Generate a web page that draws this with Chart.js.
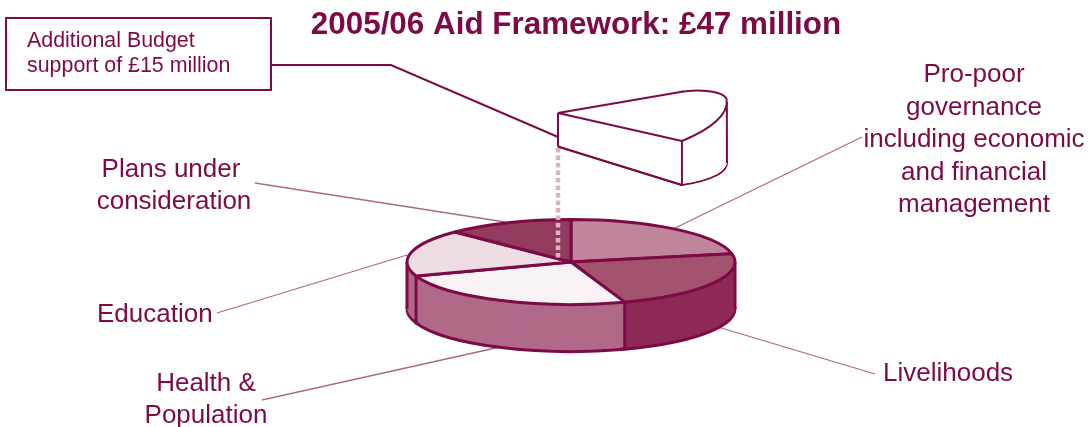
<!DOCTYPE html>
<html>
<head>
<meta charset="utf-8">
<script src="https://cdn.jsdelivr.net/npm/chart.js@4"></script>
<style>
  html, body { margin: 0; background: #fff; overflow: hidden; }
  #stage { position: relative; width: 1091px; height: 427px; }
  #stage canvas { position: absolute; left: 0; top: 0; }
</style>
</head>
<body>
<div id="stage">
  <canvas id="pie" width="1091" height="427"></canvas>
  <canvas id="wedge" width="1091" height="427"></canvas>
</div>
<script>
// Aid framework: allocation in £ million
const categories = ['Pro-poor governance including economic and financial management', 'Livelihoods', 'Health & Population', 'Education', 'Plans under consideration'];
const values = [7, 7.3, 8, 5.7, 4];
const additionalLabel = ['Additional Budget support'];
const additionalValues = [15];

const INK = '#7d0a47';
const LEADER = '#b0668a';
const topColors = ['#c0849c', '#a35270', '#f8f2f5', '#eedce4', '#933a5f'];
const sideColors = ['#8f2a56', '#8f2a56', '#b06a88', '#b06a88', '#933a5f'];

// Projection of the pie disc: centre, horizontal and vertical radius, extrusion depth
const disc = { x: 571, y: 262, rx: 164, ry: 42.5, depth: 47 };

// Projection of the lifted wedge: top and bottom faces as affine frames
const wedgeTop = { x: 558, y: 113, mx: 165.1, my: 0.35, nx: -35.3, ny: 54.3 };
const wedgeBottom = { x: 558, y: 146.5, mx: 165.2, my: 24.2, nx: -35.5, ny: 34.6 };
const wedgeSweep = 61.4;

// Stroke in screen space, so line width is not squashed with the ellipse
function patchStroke(chart) {
  const ctx = chart.ctx, native = ctx.stroke, dpr = chart.currentDevicePixelRatio;
  ctx.stroke = function () {
    ctx.save();
    ctx.setTransform(dpr, 0, 0, dpr, 0, 0);
    native.call(ctx);
    ctx.restore();
  };
}
function unpatchStroke(chart) { delete chart.ctx.stroke; }

function applyFrame(ctx, el, f) {
  const R = el.outerRadius;
  ctx.translate(f.x, f.y);
  ctx.transform(f.mx / R, f.my / R, f.nx / R, f.ny / R, 0, 0);
  ctx.translate(-el.x, -el.y);
}
function discFrame(dy) {
  return { x: disc.x, y: disc.y + dy, mx: disc.rx, my: 0, nx: 0, ny: disc.ry };
}
function mix(a, b, t) {
  const o = {};
  for (const k in a) o[k] = a[k] + (b[k] - a[k]) * t;
  return o;
}
function project(f, angle) {
  return { x: f.x + f.mx * Math.cos(angle) + f.nx * Math.sin(angle),
           y: f.y + f.my * Math.cos(angle) + f.ny * Math.sin(angle) };
}
function drawCopy(ctx, el, frame, fill, border, width) {
  const saved = el.options;
  el.options = Object.assign({}, saved, { backgroundColor: fill, borderColor: border, borderWidth: width });
  ctx.save();
  applyFrame(ctx, el, frame);
  el.draw(ctx);
  ctx.restore();
  el.options = saved;
}
function segment(ctx, a, b, color, width, dash) {
  ctx.save();
  ctx.strokeStyle = color;
  ctx.lineWidth = width;
  ctx.setLineDash(dash || []);
  ctx.beginPath();
  ctx.moveTo(a.x, a.y);
  ctx.lineTo(b.x, b.y);
  ctx.stroke();
  ctx.restore();
}

// Extruded elliptical pie, drawn from the base upward
const discPlugin = {
  id: 'discPlugin',
  beforeDatasetDraw(chart, args) {
    const ctx = chart.ctx, arcs = args.meta.data;
    patchStroke(chart);
    arcs.forEach((el, i) => drawCopy(ctx, el, discFrame(disc.depth), sideColors[i], INK, 3));
    for (let d = disc.depth - 2; d >= 1; d--) {
      arcs.forEach((el, i) => drawCopy(ctx, el, discFrame(d), sideColors[i], sideColors[i], 0));
    }
    // Vertical edges at slice boundaries on the front and at the silhouette
    const edges = [0, Math.PI];
    arcs.forEach(el => { if (Math.sin(el.endAngle) > 0) edges.push(el.endAngle); });
    edges.forEach(a => segment(ctx, project(discFrame(0), a), project(discFrame(disc.depth), a), INK, 3));
    ctx.save();
    applyFrame(ctx, arcs[0], discFrame(0));
  },
  afterDatasetDraw(chart) {
    chart.ctx.restore();
    unpatchStroke(chart);
  }
};

// Lifted wedge with its two differently tilted faces
const wedgePlugin = {
  id: 'wedgePlugin',
  beforeDatasetDraw(chart, args) {
    const ctx = chart.ctx, el = args.meta.data[0];
    patchStroke(chart);
    drawCopy(ctx, el, wedgeBottom, '#fff', INK, 2);
    for (let t = 0.02; t < 1; t += 0.02) {
      drawCopy(ctx, el, mix(wedgeBottom, wedgeTop, t), '#fff', '#fff', 0);
    }
    const half = wedgeSweep / 2 * Math.PI / 180;
    const right = Math.atan2(wedgeTop.nx, wedgeTop.mx);
    [half, right].forEach(a => segment(ctx, project(wedgeTop, a), project(wedgeBottom, a), INK, 2));
    segment(ctx, wedgeTop, wedgeBottom, INK, 2);
    // Restate the lower front edge after the side has been filled
    segment(ctx, wedgeBottom, project(wedgeBottom, half), INK, 2);
    ctx.save();
    applyFrame(ctx, el, wedgeTop);
  },
  afterDatasetDraw(chart) {
    chart.ctx.restore();
    unpatchStroke(chart);
  }
};

// Title, callouts and leader lines
const titleText = '2005/06 Aid Framework: £47 million';
const calloutLines = ['Additional Budget', 'support of £15 million'];
const labelBlocks = [
  { x: [974, 974, 974, 974, 974], y: [82, 115, 147, 180, 212], lines: ['Pro-poor', 'governance', 'including economic', 'and financial', 'management'], align: 'center' },
  { x: [883], y: [381], lines: ['Livelihoods'], align: 'left' },
  { x: [206, 206], y: [391, 423], lines: ['Health &', 'Population'], align: 'center' },
  { x: [97], y: [322], lines: ['Education'], align: 'left' },
  { x: [171, 174], y: [177, 209], lines: ['Plans under', 'consideration'], align: 'center' }
];
const leaderLines = [
  [[255, 183], [505, 222]],
  [[862, 137], [675, 228]],
  [[217, 313], [407, 255]],
  [[262, 400], [500, 347]],
  [[875, 374], [718, 327]]
];

const annotationPlugin = {
  id: 'annotationPlugin',
  beforeDatasetsDraw(chart) {
    const ctx = chart.ctx;
    leaderLines.forEach(l => segment(ctx, { x: l[0][0], y: l[0][1] }, { x: l[1][0], y: l[1][1] }, LEADER, 1.3));
  },
  afterDatasetsDraw(chart) {
    const ctx = chart.ctx;
    segment(ctx, { x: 558, y: 148 }, { x: 558, y: 259 }, '#dcb2c5', 4.5, [4.5, 3]);

    ctx.save();
    ctx.fillStyle = INK;
    ctx.textBaseline = 'alphabetic';
    ctx.textAlign = 'center';
    ctx.font = 'bold 31.4px "Liberation Sans"';
    ctx.fillText(titleText, 576, 34);

    ctx.font = '26px "Liberation Sans"';
    labelBlocks.forEach(b => {
      ctx.textAlign = b.align;
      b.lines.forEach((t, i) => ctx.fillText(t, b.x[i], b.y[i]));
    });

    ctx.strokeStyle = INK;
    ctx.lineWidth = 2;
    ctx.strokeRect(6, 18, 265, 72);
    ctx.textAlign = 'left';
    ctx.font = '21.4px "Liberation Sans"';
    ctx.fillText(calloutLines[0], 27, 47);
    ctx.fillText(calloutLines[1], 27, 72);

    ctx.beginPath();
    ctx.moveTo(271, 65);
    ctx.lineTo(391, 65);
    ctx.lineTo(558, 137);
    ctx.stroke();
    ctx.restore();
  }
};

new Chart(document.getElementById('pie'), {
  type: 'pie',
  data: {
    labels: categories,
    datasets: [{
      data: values,
      backgroundColor: topColors,
      borderColor: INK,
      borderWidth: 3,
      clip: false
    }]
  },
  options: {
    responsive: false,
    animation: false,
    events: [],
    plugins: { legend: { display: false }, tooltip: { enabled: false } }
  },
  plugins: [annotationPlugin, discPlugin]
});

new Chart(document.getElementById('wedge'), {
  type: 'pie',
  data: {
    labels: additionalLabel,
    datasets: [{
      data: additionalValues,
      backgroundColor: '#ffffff',
      borderColor: INK,
      borderWidth: 2,
      borderRadius: { outerStart: 90, outerEnd: 0, innerStart: 0, innerEnd: 0 },
      rotation: 90 - wedgeSweep / 2,
      circumference: wedgeSweep,
      clip: false
    }]
  },
  options: {
    responsive: false,
    animation: false,
    events: [],
    plugins: { legend: { display: false }, tooltip: { enabled: false } }
  },
  plugins: [wedgePlugin]
});
</script>
</body>
</html>
